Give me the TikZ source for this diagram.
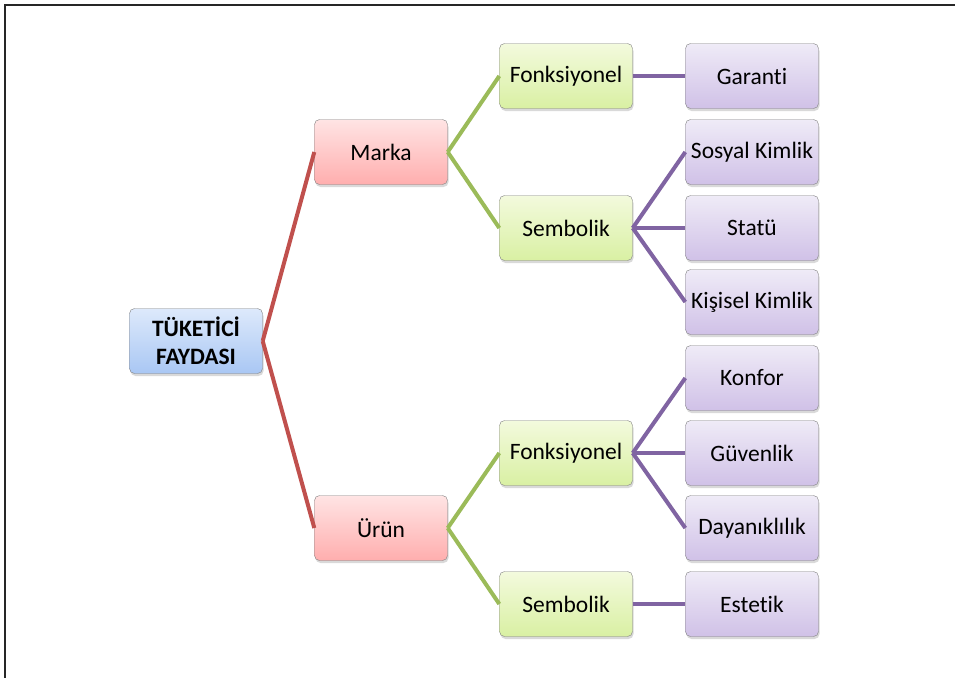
\documentclass[tikz,border=0pt]{standalone}
\usepackage{fontspec}
\setmainfont{Carlito}[Ligatures=NoCommon]
\usepackage{tikz}
\usetikzlibrary{shadows}

\definecolor{redline}{HTML}{C0504D}
\definecolor{greenline}{HTML}{9BBB59}
\definecolor{purpleline}{HTML}{8064A2}
\definecolor{bluetop}{HTML}{DDE9FB}
\definecolor{bluebot}{HTML}{A9C7F4}
\definecolor{redtop}{HTML}{FFE4E4}
\definecolor{redbot}{HTML}{FFAEAE}
\definecolor{greentop}{HTML}{F3FADD}
\definecolor{greenbot}{HTML}{D9F0A3}
\definecolor{purpletop}{HTML}{EFEBF7}
\definecolor{purplebot}{HTML}{D0C1E7}

\begin{document}
\begin{tikzpicture}[x=1pt, y=-1pt,
  box/.style={draw=black!50, rounded corners=5pt, minimum width=133pt, minimum height=65pt,
    align=center, inner sep=1pt, font=\fontsize{23.5}{28}\selectfont,
    drop shadow={shadow xshift=1pt, shadow yshift=-2.5pt, opacity=0.3}},
  bluebox/.style={box, top color=bluetop, bottom color=bluebot},
  redbox/.style={box, top color=redtop, bottom color=redbot},
  greenbox/.style={box, top color=greentop, bottom color=greenbot},
  purplebox/.style={box, top color=purpletop, bottom color=purplebot},
  link/.style={line width=4pt}]
  \useasboundingbox (0,0) rectangle (955,678);
  % Frame
  \draw[line width=2pt, black!85] (955,5) -- (5,5) -- (5,678);
  % Root
  \node[bluebox, font=\fontsize{23.5}{28}\selectfont\bfseries] (fayda) at (196,341) {TÜKETİCİ\\FAYDASI};
  % Second level
  \node[redbox] (marka) at (381,152) {Marka};
  \node[redbox] (urun)  at (381,528) {Ürün};
  % Third level
  \node[greenbox] (mfonk) at (566,76)  {Fonksiyonel};
  \node[greenbox] (msemb) at (566,228) {Sembolik};
  \node[greenbox] (ufonk) at (566,453) {Fonksiyonel};
  \node[greenbox] (usemb) at (566,604) {Sembolik};
  % Leaves
  \node[purplebox] (garanti)  at (752,76)  {Garanti};
  \node[purplebox] (sosyal)   at (752,152) {Sosyal Kimlik};
  \node[purplebox] (statu)    at (752,228) {Statü};
  \node[purplebox] (kisisel)  at (752,302) {Kişisel Kimlik};
  \node[purplebox] (konfor)   at (752,378) {Konfor};
  \node[purplebox] (guvenlik) at (752,453) {Güvenlik};
  \node[purplebox] (dayanik)  at (752,528) {Dayanıklılık};
  \node[purplebox] (estetik)  at (752,604) {Estetik};
  % Root links
  \draw[link, redline] (fayda.east) to (marka.west);
  \draw[link, redline] (fayda.east) to (urun.west);
  % Marka / Urun links
  \draw[link, greenline] (marka.east) to (mfonk.west);
  \draw[link, greenline] (marka.east) to (msemb.west);
  \draw[link, greenline] (urun.east) to (ufonk.west);
  \draw[link, greenline] (urun.east) to (usemb.west);
  % Leaf links
  \draw[link, purpleline] (mfonk.east) to (garanti.west);
  \draw[link, purpleline] (msemb.east) to (sosyal.west);
  \draw[link, purpleline] (msemb.east) to (statu.west);
  \draw[link, purpleline] (msemb.east) to (kisisel.west);
  \draw[link, purpleline] (ufonk.east) to (konfor.west);
  \draw[link, purpleline] (ufonk.east) to (guvenlik.west);
  \draw[link, purpleline] (ufonk.east) to (dayanik.west);
  \draw[link, purpleline] (usemb.east) to (estetik.west);
\end{tikzpicture}
\end{document}
